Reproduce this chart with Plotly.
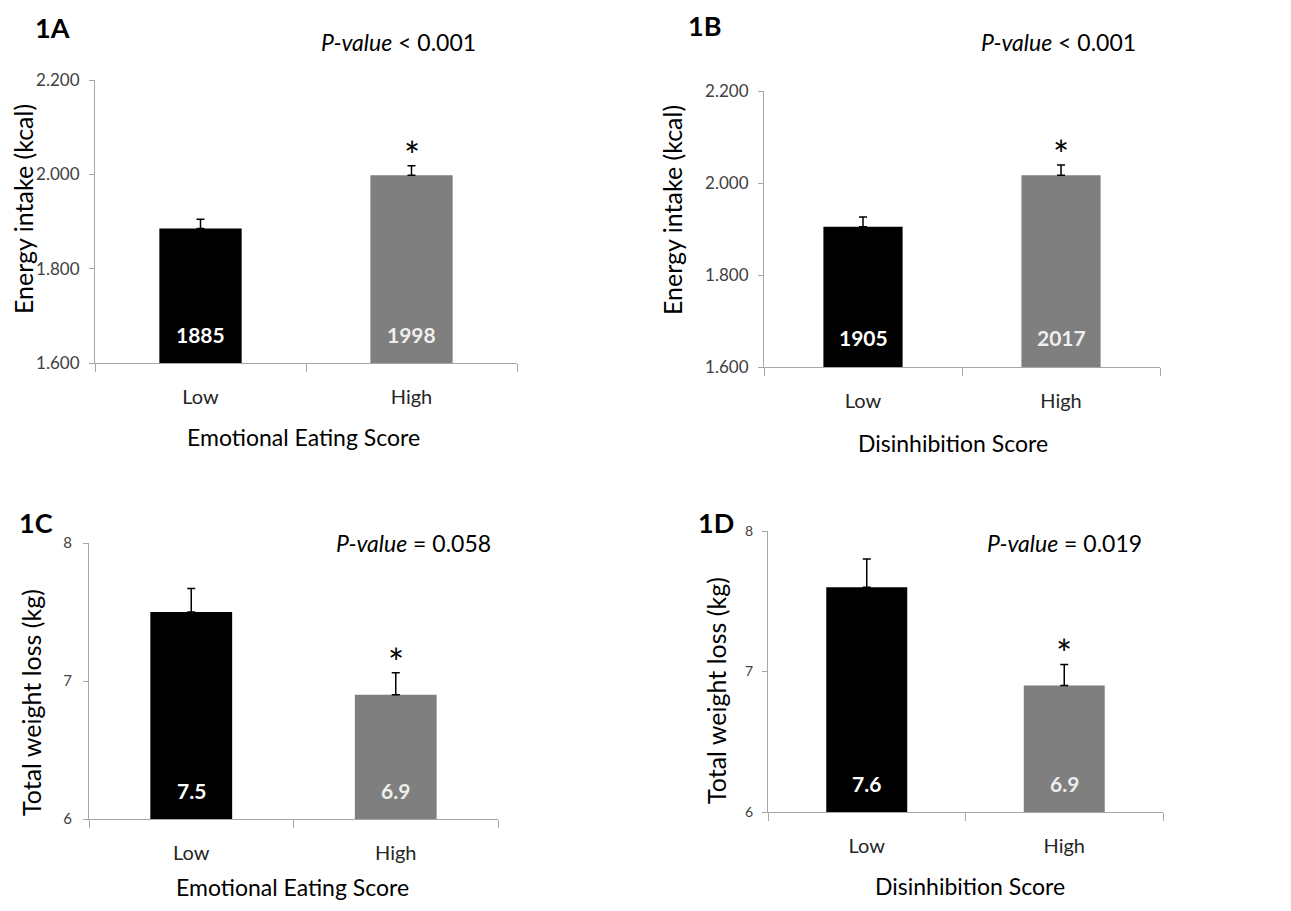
import plotly.graph_objects as go

# ---------------- data ----------------
categories = ["Low", "High"]

energy_emotional = [1885, 1998]
energy_emotional_err = [20, 20]
energy_disinhib = [1905, 2017]
energy_disinhib_err = [21, 22]

weight_emotional = [7.5, 6.9]
weight_emotional_err = [0.17, 0.16]
weight_disinhib = [7.6, 6.9]
weight_disinhib_err = [0.20, 0.15]

energy_ticks = [1600, 1800, 2000, 2200]
energy_ticktext = ["1.600", "1.800", "2.000", "2.200"]
weight_ticks = [6, 7, 8]
weight_ticktext = ["6", "7", "8"]

bar_colors = ["#000000", "#7f7f7f"]
label_colors = ["#ffffff", "#eeeeee"]

FONT = "Lato"
PAGE_W, PAGE_H = 1291, 911
OFF = 8  # default page body margin
W, H = PAGE_W - 2 * OFF, PAGE_H - 2 * OFF


def fx(px):
    return (px - OFF) / W


def fy(py):
    return 1 - (py - OFF) / H


panels = [
    dict(name="1A", vals=energy_emotional, err=energy_emotional_err, fmt="{:.0f}",
         rng=[1600, 2200], tv=energy_ticks, tt=energy_ticktext, tsize=17, tstand=6,
         px=(95, 517), py=(80, 363), bw=0.39,
         ytitle="Energy intake (kcal)", ytpos=(23, 209),
         xtitle="Emotional Eating Score", xtpos=(303, 437),
         plabel=(52, 27), ptext="<i>P-value</i> < 0.001", ppos=(399, 42),
         star_idx=1),
    dict(name="1B", vals=energy_disinhib, err=energy_disinhib_err, fmt="{:.0f}",
         rng=[1600, 2200], tv=energy_ticks, tt=energy_ticktext, tsize=17, tstand=6,
         px=(764, 1160), py=(91, 367), bw=0.40,
         ytitle="Energy intake (kcal)", ytpos=(672, 210),
         xtitle="Disinhibition Score", xtpos=(953, 443),
         plabel=(704, 25), ptext="<i>P-value</i> < 0.001", ppos=(1058, 42),
         star_idx=1),
    dict(name="1C", vals=weight_emotional, err=weight_emotional_err, fmt="{:.1f}",
         rng=[6, 8], tv=weight_ticks, tt=weight_ticktext, tsize=15, tstand=8,
         px=(89, 498), py=(543, 819), bw=0.40,
         ytitle="Total weight loss (kg)", ytpos=(31, 703),
         xtitle="Emotional Eating Score", xtpos=(292, 887),
         plabel=(36, 522), ptext="<i>P-value</i> = 0.058", ppos=(413, 543),
         star_idx=1),
    dict(name="1D", vals=weight_disinhib, err=weight_disinhib_err, fmt="{:.1f}",
         rng=[6, 8], tv=weight_ticks, tt=weight_ticktext, tsize=14, tstand=6,
         px=(768, 1163), py=(531, 812), bw=0.41,
         ytitle="Total weight loss (kg)", ytpos=(716, 691),
         xtitle="Disinhibition Score", xtpos=(970, 886),
         plabel=(716, 522), ptext="<i>P-value</i> = 0.019", ppos=(1064, 543),
         star_idx=1),
]

fig = go.Figure()
annotations = []

for i, p in enumerate(panels, start=1):
    xa = "x" if i == 1 else f"x{i}"
    ya = "y" if i == 1 else f"y{i}"
    fig.add_trace(go.Bar(
        x=categories, y=p["vals"],
        width=p["bw"],
        marker=dict(color=bar_colors, line=dict(width=0)),
        error_y=dict(type="data", symmetric=False, array=p["err"],
                     arrayminus=[0] * len(p["err"]),
                     color="#000000", thickness=1.5, width=4),
        xaxis=xa, yaxis=ya, showlegend=False, hoverinfo="skip",
    ))
    xd = [fx(p["px"][0]), fx(p["px"][1])]
    yd = [fy(p["py"][1]), fy(p["py"][0])]
    axis_common = dict(showline=True, linecolor="#a6a6a6", linewidth=1.2,
                       showgrid=False, zeroline=False, ticks="outside",
                       tickcolor="#a6a6a6", automargin=False)
    fig.update_layout(**{
        ("xaxis" if i == 1 else f"xaxis{i}"): dict(
            domain=xd, anchor=ya, type="category", tickson="boundaries",
            ticklen=8, tickfont=dict(family=FONT, size=20, color="#262626"),
            ticklabelstandoff=16, fixedrange=True, **axis_common),
        ("yaxis" if i == 1 else f"yaxis{i}"): dict(
            domain=yd, anchor=xa, range=p["rng"], tickvals=p["tv"],
            ticktext=p["tt"], ticklen=5, ticklabelstandoff=p["tstand"],
            tickfont=dict(family=FONT, size=p["tsize"], color="#404040"),
            fixedrange=True, **axis_common),
    })
    # value labels inside bars
    for c, v, col in zip(categories, p["vals"], label_colors):
        annotations.append(dict(
            x=c, y=p["rng"][0], xref=xa, yref=ya, text=p["fmt"].format(v),
            showarrow=False, yanchor="middle", yshift=29,
            font=dict(family=FONT, size=21, color=col, weight="bold")))
    # significance star
    si = p["star_idx"]
    annotations.append(dict(
        x=categories[si], y=p["vals"][si] + p["err"][si], xref=xa, yref=ya,
        text="*", showarrow=False, yanchor="middle", yshift=11,
        font=dict(family=FONT, size=38, color="#000000")))
    # panel label
    annotations.append(dict(
        x=fx(p["plabel"][0]), y=fy(p["plabel"][1]), xref="paper", yref="paper",
        text="<b>" + p["name"] + "</b>", showarrow=False,
        xanchor="center", yanchor="middle",
        font=dict(family=FONT, size=27, color="#000000")))
    # p-value
    annotations.append(dict(
        x=fx(p["ppos"][0]), y=fy(p["ppos"][1]), xref="paper", yref="paper",
        text=p["ptext"], showarrow=False, xanchor="center", yanchor="middle",
        font=dict(family=FONT, size=23, color="#000000")))
    # y title
    annotations.append(dict(
        x=fx(p["ytpos"][0]), y=fy(p["ytpos"][1]), xref="paper", yref="paper",
        text=p["ytitle"], textangle=-90, showarrow=False,
        xanchor="center", yanchor="middle",
        font=dict(family=FONT, size=25, color="#000000")))
    # x title
    annotations.append(dict(
        x=fx(p["xtpos"][0]), y=fy(p["xtpos"][1]), xref="paper", yref="paper",
        text=p["xtitle"], showarrow=False, xanchor="center", yanchor="middle",
        font=dict(family=FONT, size=23, color="#000000")))

fig.update_layout(
    width=W, height=H, margin=dict(l=0, r=0, t=0, b=0, autoexpand=False),
    paper_bgcolor="#ffffff", plot_bgcolor="#ffffff",
    annotations=annotations, bargap=0.6,
    font=dict(family=FONT),
)

fig.write_html("out.html")
